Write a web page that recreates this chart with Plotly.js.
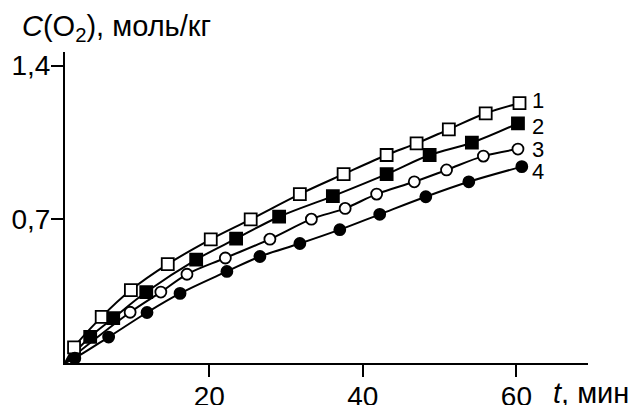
<!DOCTYPE html>
<html>
<head>
<meta charset="utf-8">
<script src="https://cdn.plot.ly/plotly-3.0.1.min.js"></script>
<style>html,body{margin:0;padding:0;background:#fff;}#chart{width:637px;height:405px;}</style>
</head>
<body>
<div id="chart"></div>
<script>
// Data (t in min, C(O2) in mol/kg)
var curveStart = [1.22, 0.046];
var t1 = [2.4, 6.0, 9.8, 14.6, 20.2, 25.4, 31.8, 37.5, 43.1, 47.0, 51.2, 56.0, 60.4];
var c1 = [0.117, 0.256, 0.378, 0.496, 0.609, 0.700, 0.815, 0.906, 0.993, 1.046, 1.110, 1.183, 1.229];
var t2 = [4.5, 7.5, 11.8, 18.3, 23.5, 29.1, 36.1, 43.1, 48.7, 54.2, 60.2];
var c2 = [0.165, 0.250, 0.369, 0.517, 0.612, 0.712, 0.806, 0.906, 0.993, 1.049, 1.137];
var t3 = [9.7, 13.7, 17.1, 22.1, 27.9, 33.3, 37.7, 41.8, 46.7, 50.9, 55.7, 60.2];
var c3 = [0.277, 0.369, 0.450, 0.524, 0.610, 0.701, 0.750, 0.815, 0.871, 0.925, 0.988, 1.020];
var t4 = [2.5, 6.9, 11.9, 16.2, 22.3, 26.6, 31.8, 37.0, 42.2, 48.2, 53.8, 60.7];
var c4 = [0.068, 0.164, 0.276, 0.363, 0.463, 0.531, 0.590, 0.653, 0.723, 0.803, 0.871, 0.940];
var curveLabels = ['1', '2', '3', '4'];
var xTickVals = [20, 40, 60];
var xTickText = ['20', '40', '60'];
var yTickVals = [0.7, 1.4];
var yTickText = ['0,7', '1,4'];
var yTitle = '<i>C</i>(O<sub>2</sub>), моль/кг';
var xTitle = '<i>t</i>, мин';

var FONT = 'Liberation Sans, Arial, Helvetica, sans-serif';
var series = [
  {t: t1, c: c1, sym: 'square-open', size: 12},
  {t: t2, c: c2, sym: 'square', size: 12},
  {t: t3, c: c3, sym: 'circle-open', size: 11},
  {t: t4, c: c4, sym: 'circle', size: 11}
];
var traces = [];
series.forEach(function (s) {
  traces.push({
    x: [curveStart[0]].concat(s.t), y: [curveStart[1]].concat(s.c),
    mode: 'lines', line: {color: '#000', width: 2, shape: 'spline', smoothing: 1},
    hoverinfo: 'skip', showlegend: false
  });
});
series.forEach(function (s) {
  var open = s.sym.indexOf('open') >= 0;
  traces.push({
    x: s.t, y: s.c, mode: 'markers', showlegend: false,
    marker: {
      symbol: open ? s.sym.replace('-open', '') : s.sym,
      size: s.size,
      color: open ? '#fff' : '#000',
      line: {color: '#000', width: 1.8}
    }
  });
});

var annotations = [
  {text: yTitle, xref: 'paper', yref: 'paper', x: -0.086, y: 1.077, xanchor: 'left', yanchor: 'middle',
   showarrow: false, font: {family: FONT, size: 29, color: '#000'}},
  {text: xTitle, xref: 'paper', yref: 'paper', x: 0.929, y: -0.096, xanchor: 'left', yanchor: 'middle',
   showarrow: false, font: {family: FONT, size: 29, color: '#000'}}
];
var labelY = [c1[c1.length - 1], c2[c2.length - 1], c3[c3.length - 1], c4[c4.length - 1]];
var labelShift = [3, -3, 0, -5];
curveLabels.forEach(function (lab, i) {
  annotations.push({text: lab, xref: 'paper', yref: 'y', x: 0.889, y: labelY[i], xanchor: 'left', yanchor: 'middle',
    yshift: labelShift[i], showarrow: false, font: {family: FONT, size: 22, color: '#000'}});
});

var layout = {
  width: 637, height: 405,
  margin: {l: 65, r: 49, t: 52, b: 42, pad: 0},
  paper_bgcolor: '#fff', plot_bgcolor: '#fff',
  font: {family: FONT, size: 28, color: '#000'},
  showlegend: false,
  xaxis: {
    range: [1.22, 69.32], showgrid: false, zeroline: false,
    showline: true, linecolor: '#000', linewidth: 2,
    ticks: 'outside', ticklen: 12, tickwidth: 2, tickcolor: '#000',
    tickvals: xTickVals, ticktext: xTickText, ticklabelstandoff: -5,
    tickfont: {family: FONT, size: 28, color: '#000'}
  },
  yaxis: {
    range: [0.046, 1.462], showgrid: false, zeroline: false,
    showline: true, linecolor: '#000', linewidth: 2,
    ticks: 'outside', ticklen: 12, tickwidth: 2, tickcolor: '#000',
    tickvals: yTickVals, ticktext: yTickText, ticklabelstandoff: -5,
    tickfont: {family: FONT, size: 28, color: '#000'}
  },
  annotations: annotations
};

Plotly.newPlot('chart', traces, layout, {displayModeBar: false, staticPlot: true});
</script>
</body>
</html>
